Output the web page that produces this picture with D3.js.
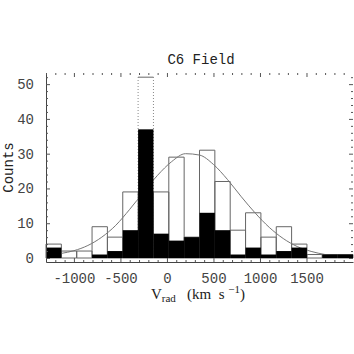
<!DOCTYPE html>
<html lang="en">
<head>
<meta charset="utf-8">
<title>C6 Field</title>
<style>
body{
  margin: 0;
  background: #fff;
}
.tick text{
  font: 14px "Liberation Mono", monospace;
  fill: #444;
}
.axis path{
  stroke: #444;
}
.axis line{
  stroke: #555;
}
</style>
<script src="https://cdnjs.cloudflare.com/ajax/libs/d3/7.8.5/d3.min.js"></script>
</head>
<body>
<div id="chart"></div>
<script>
// left edge of each velocity bin (km/s), bins are 165 wide
var binStart = [-1300, -1135, -970, -805, -640, -475, -310, -145, 20, 185,
                350, 515, 680, 845, 1010, 1175, 1340, 1505, 1670, 1835];
var binWidth = 165;
// open (outlined) histogram
var openCounts = [4, 2, 2, 9, 6, 19, 52, 19, 29, 6, 31, 22, 8, 13, 6, 9, 4, 1, 1, 1];
// filled histogram
var filledCounts = [3, 0, 0, 1, 2, 8, 37, 7, 5, 6, 13, 8, 1, 3, 1, 2, 3, 0, 1, 1];
// fitted curve
var curveV = [-1140, -1000, -850, -700, -550, -400, -250, -100, 50, 200, 350,
              500, 650, 800, 950, 1100, 1250, 1400, 1550, 1700, 1850, 2000];
var curveN = [1.3, 2.1, 3.6, 6.0, 9.4, 14.0, 19.0, 23.8, 27.7, 30.0, 29.6,
              26.9, 22.6, 17.6, 12.9, 8.8, 5.6, 3.3, 1.9, 1.0, 0.5, 0.3];
var xTicks = [-1000, -500, 0, 500, 1000, 1500];
var yTicks = [0, 10, 20, 30, 40, 50];

var W = 354, H = 354;
var plotLeft = 46, plotRight = 353, plotTop = 73, plotBottom = 262;

var x = d3.scaleLinear().domain([-1300, 2000]).range([plotLeft, plotRight]);
var y = d3.scaleLinear().domain([-1.15, 53.2]).range([plotBottom, plotTop]);

var svg = d3.select('#chart').append('svg')
  .attr('width', W)
  .attr('height', H);

var bins = binStart.map(function(s, i) {
  return { x0: s, x1: s + binWidth, open: openCounts[i], filled: filledCounts[i] };
});
var tallest = d3.max(openCounts);

// open histogram: top edge solid, sides thin
var openG = svg.append('g');
bins.forEach(function(d) {
  var x0 = x(d.x0), x1 = x(d.x1), yt = y(d.open), yb = y(0);
  var dash = d.open === tallest ? '1,2' : null;
  [x0, x1].forEach(function(xs) {
    openG.append('path')
      .attr('d', 'M' + xs + ',' + yb + 'V' + yt)
      .attr('stroke', dash ? '#888' : '#666')
      .attr('stroke-dasharray', dash)
      .attr('fill', 'none');
  });
  openG.append('path')
    .attr('d', 'M' + x0 + ',' + yt + 'H' + x1)
    .attr('stroke', '#666')
    .attr('fill', 'none');
  openG.append('path')
    .attr('d', 'M' + x0 + ',' + yb + 'H' + x1)
    .attr('stroke', '#666')
    .attr('fill', 'none');
});

// fitted curve
var line = d3.line()
  .x(function(d, i) { return x(curveV[i]); })
  .y(function(d) { return y(d); })
  .curve(d3.curveMonotoneX);
svg.append('path')
  .datum(curveN)
  .attr('d', line)
  .attr('fill', 'none')
  .attr('stroke', '#777')
  .attr('stroke-width', 1);

// filled histogram
svg.append('g').selectAll('rect')
  .data(bins.filter(function(d) { return d.filled > 0; }))
  .enter()
  .append('rect')
  .attr('x', function(d) { return x(d.x0); })
  .attr('width', function(d) { return x(d.x1) - x(d.x0); })
  .attr('y', function(d) { return y(d.filled); })
  .attr('height', function(d) { return y(0) - y(d.filled); })
  .attr('fill', '#000');

// axes: ticks point inward
var minorX = d3.range(-1300, 2001, 100).filter(function(v) { return v % 500 !== 0; });
var minorY = d3.range(0, 54, 2).filter(function(v) { return v % 10 !== 0; });

function addAxis(axis, tf) {
  return svg.append('g')
    .attr('class', 'axis')
    .attr('transform', tf)
    .call(axis);
}

addAxis(d3.axisBottom(x).tickValues(xTicks).tickSizeInner(-4).tickSizeOuter(0)
  .tickPadding(11).tickFormat(function(d) { return d < 0 ? '-' + Math.abs(d) : d; }),
  'translate(0,' + plotBottom + ')');
addAxis(d3.axisBottom(x).tickValues(minorX).tickSize(-2).tickFormat(''),
  'translate(0,' + plotBottom + ')').select('.domain').remove();

addAxis(d3.axisLeft(y).tickValues(yTicks).tickSizeInner(-4).tickSizeOuter(0).tickPadding(12),
  'translate(' + plotLeft + ',0)');
addAxis(d3.axisLeft(y).tickValues(minorY).tickSize(-2).tickFormat(''),
  'translate(' + plotLeft + ',0)').select('.domain').remove();

// top and right: ticks only
[[d3.axisTop(x).tickValues(xTicks).tickSize(-4), 'translate(0,' + plotTop + ')'],
 [d3.axisTop(x).tickValues(minorX).tickSize(-2), 'translate(0,' + plotTop + ')'],
 [d3.axisRight(y).tickValues(yTicks).tickSize(-4), 'translate(' + plotRight + ',0)'],
 [d3.axisRight(y).tickValues(minorY).tickSize(-2), 'translate(' + plotRight + ',0)']
].forEach(function(a) {
  addAxis(a[0].tickFormat(''), a[1]).select('.domain').remove();
});
svg.selectAll('.axis line').attr('stroke', '#777');

// titles
svg.append('text')
  .attr('x', 201).attr('y', 64)
  .attr('text-anchor', 'middle')
  .style('font', '14px "Liberation Mono", monospace')
  .attr('fill', '#222')
  .text('C6 Field');

svg.append('text')
  .attr('transform', 'translate(13,' + ((plotTop + plotBottom) / 2) + ') rotate(-90)')
  .attr('text-anchor', 'middle')
  .style('font', '14px "Liberation Mono", monospace')
  .attr('fill', '#222')
  .text('Counts');

var xl = svg.append('text')
  .attr('x', 198).attr('y', 299)
  .attr('text-anchor', 'middle')
  .style('font', '15px "Liberation Serif", serif')
  .style('white-space', 'pre')
  .attr('fill', '#222');
xl.append('tspan').text('V');
xl.append('tspan').attr('dy', 3).style('font-size', '11px').text('rad');
xl.append('tspan').attr('dy', -3).text('   (km  s ');
xl.append('tspan').attr('dy', -6).style('font-size', '11px').text('\u22121');
xl.append('tspan').attr('dy', 6).text(')');
</script>
</body>
</html>
